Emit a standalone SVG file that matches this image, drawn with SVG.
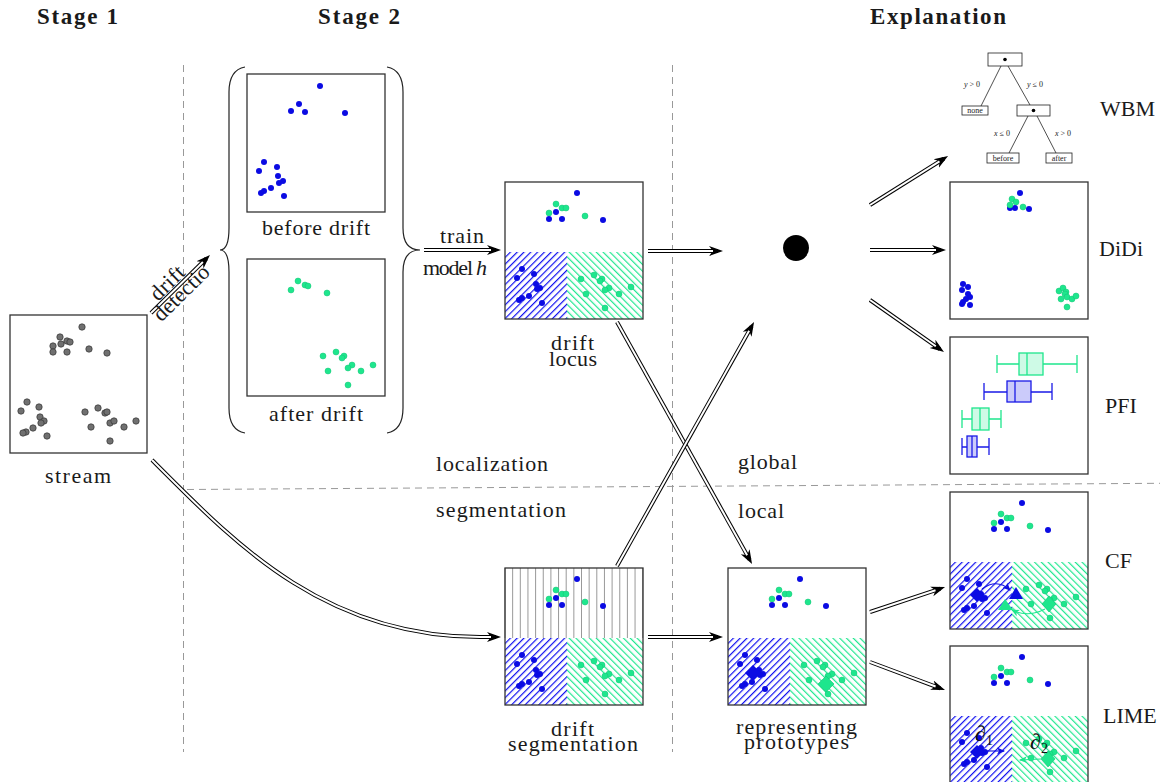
<svg xmlns="http://www.w3.org/2000/svg" xmlns:xlink="http://www.w3.org/1999/xlink" width="1168" height="782" viewBox="0 0 1168 782">
<style>
text{font-family:"Liberation Serif","Times New Roman",serif;fill:#1a1a1a;font-size:22px}
.hd{font-weight:bold;font-size:23px}
.sm{font-size:8px;fill:#222}
.box{fill:none;stroke:#333;stroke-width:1.3}
.bx{fill:#fff;stroke:#222;stroke-width:0.8}
.b{fill:#0b0be3}
.g{fill:#1ee68d;stroke:#12c476;stroke-width:0.5}
.gr{fill:#707070;stroke:#333;stroke-width:0.7}
.dash{stroke:#999;stroke-width:1;stroke-dasharray:7 5;fill:none}
.dk{fill:none;stroke:#000;stroke-width:4;marker-end:url(#ah)}
.wh{fill:none;stroke:#fff;stroke-width:2}
.bp{stroke:#1a1ae6;stroke-width:1.3;fill:none}
.bpf{stroke:#1a1ae6;stroke-width:1.3;fill:rgba(20,20,230,0.22)}
.gp{stroke:#1ee68d;stroke-width:1.3;fill:none}
.gpf{stroke:#1ee68d;stroke-width:1.3;fill:rgba(30,230,141,0.22)}
</style>
<defs>
<marker id="ah" markerUnits="userSpaceOnUse" markerWidth="16" markerHeight="14" viewBox="0 0 16 14" refX="9" refY="7" orient="auto"><path d="M0,2 L14,7 L0,12 L4,7 Z" fill="#000"/></marker>
<marker id="sab" markerUnits="userSpaceOnUse" markerWidth="9" markerHeight="8" viewBox="0 0 9 8" refX="7" refY="4" orient="auto"><path d="M0,0.5 L8,4 L0,7.5 L2,4 Z" fill="#1010e0"/></marker>
<marker id="sag" markerUnits="userSpaceOnUse" markerWidth="9" markerHeight="8" viewBox="0 0 9 8" refX="7" refY="4" orient="auto"><path d="M0,0.5 L8,4 L0,7.5 L2,4 Z" fill="#1ee68d"/></marker>
<pattern id="hb" patternUnits="userSpaceOnUse" width="4.8" height="10" patternTransform="rotate(45)"><rect x="0" y="0" width="1.2" height="10" fill="#1010f0"/></pattern>
<pattern id="hg" patternUnits="userSpaceOnUse" width="4.8" height="10" patternTransform="rotate(-45)"><rect x="0" y="0" width="1.2" height="10" fill="#20e890"/></pattern>
<g id="dots">
<circle class="g" cx="51" cy="22" r="3"/><circle class="g" cx="57" cy="26" r="3"/><circle class="g" cx="61" cy="26" r="3"/><circle class="g" cx="44" cy="31" r="3"/><circle class="g" cx="80" cy="34" r="3"/>
<circle class="b" cx="72" cy="11" r="3"/><circle class="b" cx="51" cy="30" r="3"/><circle class="b" cx="44" cy="37" r="3"/><circle class="b" cx="57" cy="37" r="3"/><circle class="b" cx="98" cy="38" r="3"/>
<circle class="b" cx="17" cy="87" r="3"/><circle class="b" cx="12" cy="96" r="3"/><circle class="b" cx="29" cy="92" r="3"/><circle class="b" cx="31" cy="102" r="3"/><circle class="b" cx="35" cy="106" r="3"/><circle class="b" cx="32" cy="107" r="3"/><circle class="b" cx="24" cy="114" r="3"/><circle class="b" cx="17" cy="116" r="3"/><circle class="b" cx="14" cy="118" r="3"/><circle class="b" cx="37" cy="121" r="3"/>
<circle class="g" cx="76" cy="97" r="3"/><circle class="g" cx="89" cy="93" r="3"/><circle class="g" cx="97" cy="97" r="3"/><circle class="g" cx="95" cy="99" r="3"/><circle class="g" cx="104" cy="106" r="3"/><circle class="g" cx="100" cy="108" r="3"/><circle class="g" cx="81" cy="112" r="3"/><circle class="g" cx="114" cy="112" r="3"/><circle class="g" cx="126" cy="105" r="3"/><circle class="g" cx="100" cy="126" r="3"/>
</g>
<g id="tpl">
<rect x="0" y="70" width="62" height="67" fill="url(#hb)"/>
<rect x="62" y="70" width="76" height="67" fill="url(#hg)"/>
<use href="#dots" xlink:href="#dots"/>
</g>
</defs>
<rect width="1168" height="782" fill="#fff"/>

<g id="guides">
<line class="dash" x1="183.5" y1="65" x2="183.5" y2="752"/>
<line class="dash" x1="672.5" y1="65" x2="672.5" y2="752"/>
<line class="dash" x1="187" y1="489.5" x2="1160" y2="483.3"/>
</g>

<g id="headers">
<text class="hd" x="37" y="24" textLength="81" lengthAdjust="spacing">Stage 1</text>
<text class="hd" x="318" y="24" textLength="82" lengthAdjust="spacing">Stage 2</text>
<text class="hd" x="870" y="24" textLength="136" lengthAdjust="spacing">Explanation</text>
</g>

<g id="region-labels">
<text x="436" y="471" textLength="112" lengthAdjust="spacing">localization</text>
<text x="436" y="517" textLength="130" lengthAdjust="spacing">segmentation</text>
<text x="738" y="469" textLength="59" lengthAdjust="spacing">global</text>
<text x="738" y="518" textLength="46" lengthAdjust="spacing">local</text>
</g>

<g id="connectors">
<path class="dk" d="M151,313 L206.4,258.5"/><path class="wh" d="M151,313 L202.9,262"/>
<path class="dk" d="M424,250 L496,250"/><path class="wh" d="M424,250 L491,250"/>
<path class="dk" d="M648,251 L718,251"/><path class="wh" d="M648,251 L713,251"/>
<path class="dk" d="M617,322 L749.6,559.6"/><path class="wh" d="M617,322 L747.1,555.3"/>
<path class="dk" d="M617,566 L751.6,326.4"/><path class="wh" d="M617,566 L749.1,330.7"/>
<path class="dk" d="M152,460 C232,540 322,637 480,637 L496,637"/><path class="wh" d="M152,460 C232,540 322,637 480,637 L491,637"/>
<path class="dk" d="M648,637 L718,637"/><path class="wh" d="M648,637 L713,637"/>
<path class="dk" d="M870,205 L943.8,158.7"/><path class="wh" d="M870,205 L939.5,161.3"/>
<path class="dk" d="M870,250 L941,250"/><path class="wh" d="M870,250 L936,250"/>
<path class="dk" d="M870,300 L939.9,349.1"/><path class="wh" d="M870,300 L935.8,346.3"/>
<path class="dk" d="M870,612 L940.3,588.6"/><path class="wh" d="M870,612 L935.5,590.2"/>
<path class="dk" d="M870,662 L940.3,688.3"/><path class="wh" d="M870,662 L935.6,686.5"/>
<text transform="translate(180,284.5) rotate(-44.5)" x="-8" y="-3" text-anchor="middle" font-size="20" textLength="40" lengthAdjust="spacing">drift</text>
<text transform="translate(180,284.5) rotate(-44.5)" x="-5" y="14" text-anchor="middle" font-size="20" textLength="70" lengthAdjust="spacing">detectio</text>
<text x="440" y="243" textLength="44" lengthAdjust="spacing">train</text>
<text x="423" y="275" textLength="50" lengthAdjust="spacing">model</text>
<text x="476" y="275" font-style="italic">h</text>
</g>

<g id="stream">
<rect class="box" x="10" y="315" width="137" height="138"/>
<circle class="gr" cx="82" cy="327" r="3.2"/><circle class="gr" cx="60" cy="337" r="3.2"/><circle class="gr" cx="53" cy="346" r="3.2"/><circle class="gr" cx="61" cy="344" r="3.2"/><circle class="gr" cx="67" cy="341" r="3.2"/><circle class="gr" cx="70" cy="342" r="3.2"/><circle class="gr" cx="53" cy="352" r="3.2"/><circle class="gr" cx="67" cy="352" r="3.2"/><circle class="gr" cx="89" cy="349" r="3.2"/><circle class="gr" cx="107" cy="353" r="3.2"/>
<circle class="gr" cx="27" cy="402" r="3.2"/><circle class="gr" cx="21" cy="411" r="3.2"/><circle class="gr" cx="39" cy="407" r="3.2"/><circle class="gr" cx="40" cy="417" r="3.2"/><circle class="gr" cx="44" cy="421" r="3.2"/><circle class="gr" cx="41" cy="423" r="3.2"/><circle class="gr" cx="33" cy="428" r="3.2"/><circle class="gr" cx="26" cy="432" r="3.2"/><circle class="gr" cx="23" cy="433" r="3.2"/><circle class="gr" cx="47" cy="436" r="3.2"/>
<circle class="gr" cx="85" cy="412" r="3.2"/><circle class="gr" cx="98" cy="408" r="3.2"/><circle class="gr" cx="105" cy="413" r="3.2"/><circle class="gr" cx="107" cy="412" r="3.2"/><circle class="gr" cx="110" cy="423" r="3.2"/><circle class="gr" cx="114" cy="421" r="3.2"/><circle class="gr" cx="91" cy="427" r="3.2"/><circle class="gr" cx="124" cy="427" r="3.2"/><circle class="gr" cx="136" cy="421" r="3.2"/><circle class="gr" cx="110" cy="441" r="3.2"/>
<text x="45" y="483" textLength="66" lengthAdjust="spacing">stream</text>
</g>

<g id="braces" fill="none" stroke="#222" stroke-width="1.2">
<path d="M245,67 Q229,70 229,92 L229,228 Q229,250 220,250 Q229,250 229,272 L229,408 Q229,430 245,433"/>
<path d="M387,67 Q403,70 403,92 L403,228 Q403,250 420,250 Q403,250 403,272 L403,408 Q403,430 387,433"/>
</g>

<g id="before-drift">
<rect class="box" x="247" y="74" width="138" height="138"/>
<circle class="b" cx="320" cy="86" r="3"/><circle class="b" cx="299" cy="104" r="3"/><circle class="b" cx="291" cy="111" r="3"/><circle class="b" cx="305" cy="112" r="3"/><circle class="b" cx="345" cy="113" r="3"/>
<circle class="b" cx="264" cy="162" r="3"/><circle class="b" cx="259" cy="171" r="3"/><circle class="b" cx="277" cy="167" r="3"/><circle class="b" cx="278" cy="176" r="3"/><circle class="b" cx="279" cy="183" r="3"/><circle class="b" cx="283" cy="181" r="3"/><circle class="b" cx="271" cy="188" r="3"/><circle class="b" cx="264" cy="191" r="3"/><circle class="b" cx="261" cy="193" r="3"/><circle class="b" cx="284" cy="196" r="3"/>
<text x="262" y="235" textLength="108" lengthAdjust="spacing">before drift</text>
</g>

<g id="after-drift">
<rect class="box" x="247" y="259" width="138" height="137"/>
<circle class="g" cx="298" cy="281" r="3"/><circle class="g" cx="305" cy="285" r="3"/><circle class="g" cx="308" cy="286" r="3"/><circle class="g" cx="291" cy="290" r="3"/><circle class="g" cx="327" cy="293" r="3"/>
<circle class="g" cx="336" cy="352" r="3"/><circle class="g" cx="323" cy="356" r="3"/><circle class="g" cx="344" cy="356" r="3"/><circle class="g" cx="342" cy="358" r="3"/><circle class="g" cx="352" cy="365" r="3"/><circle class="g" cx="348" cy="368" r="3"/><circle class="g" cx="373" cy="365" r="3"/><circle class="g" cx="361" cy="371" r="3"/><circle class="g" cx="328" cy="371" r="3"/><circle class="g" cx="348" cy="385" r="3"/>
<text x="269" y="421" textLength="94" lengthAdjust="spacing">after drift</text>
</g>

<g id="drift-locus">
<use href="#tpl" xlink:href="#tpl" transform="translate(505,182)"/>
<rect class="box" x="505" y="182" width="138" height="137"/>
<text x="551" y="350" textLength="43" lengthAdjust="spacing">drift</text>
<text x="549" y="366" textLength="48" lengthAdjust="spacing">locus</text>
</g>

<g id="drift-segmentation">
<path stroke="#999" stroke-width="1" d="M505,568v70M512.65,568v70M520.3,568v70M527.95,568v70M535.6,568v70M543.25,568v70M550.9,568v70M558.55,568v70M566.2,568v70M573.85,568v70M581.5,568v70M589.15,568v70M596.8,568v70M604.45,568v70M612.1,568v70M619.75,568v70M627.4,568v70M635.05,568v70M642.7,568v70"/>
<use href="#tpl" xlink:href="#tpl" transform="translate(505,568)"/>
<rect class="box" x="505" y="568" width="138" height="137"/>
<text x="551" y="736" textLength="43" lengthAdjust="spacing">drift</text>
<text x="508" y="751" textLength="130" lengthAdjust="spacing">segmentation</text>
</g>

<g id="prototypes">
<use href="#tpl" xlink:href="#tpl" transform="translate(728,568)"/>
<path d="M753,665 L761,673 L753,681 L745,673 Z" fill="#0b0be3"/>
<path d="M826,676 L834,684 L826,692 L818,684 Z" fill="#1ee68d" stroke="#12c476" stroke-width="0.6"/>
<rect class="box" x="728" y="568" width="138" height="137"/>
<text x="736" y="734" textLength="121" lengthAdjust="spacing">representing</text>
<text x="744" y="749" textLength="105" lengthAdjust="spacing">prototypes</text>
</g>

<g id="model-dot">
<circle cx="796" cy="248" r="13" fill="#000"/>
</g>

<g id="wbm">
<line x1="1001" y1="66" x2="981" y2="106" stroke="#222" stroke-width="0.8"/>
<line x1="1008" y1="66" x2="1030" y2="105" stroke="#222" stroke-width="0.8"/>
<line x1="1028" y1="116" x2="1009" y2="153" stroke="#222" stroke-width="0.8"/>
<line x1="1037" y1="116" x2="1056" y2="153" stroke="#222" stroke-width="0.8"/>
<rect class="bx" x="988" y="53" width="34" height="13"/><circle cx="1005" cy="59.5" r="1.8" fill="#000"/>
<rect class="bx" x="962" y="106" width="26" height="9"/><text class="sm" x="975" y="113" text-anchor="middle">none</text>
<rect class="bx" x="1017" y="105" width="33" height="11"/><circle cx="1033.5" cy="110.5" r="1.8" fill="#000"/>
<rect class="bx" x="987" y="153" width="32" height="10"/><text class="sm" x="1003" y="161" text-anchor="middle">before</text>
<rect class="bx" x="1046" y="153" width="26" height="10"/><text class="sm" x="1059" y="161" text-anchor="middle">after</text>
<text class="sm" x="972" y="87" text-anchor="middle"><tspan font-style="italic">y</tspan> &gt; 0</text>
<text class="sm" x="1035" y="87" text-anchor="middle"><tspan font-style="italic">y</tspan> ≤ 0</text>
<text class="sm" x="1002" y="136" text-anchor="middle"><tspan font-style="italic">x</tspan> ≤ 0</text>
<text class="sm" x="1063" y="136" text-anchor="middle"><tspan font-style="italic">x</tspan> &gt; 0</text>
<text x="1100" y="116">WBM</text>
</g>

<g id="didi">
<rect class="box" x="950" y="182" width="138" height="137"/>
<circle class="b" cx="1020" cy="193" r="3"/><circle class="g" cx="1012" cy="199" r="3"/><circle class="g" cx="1016" cy="202" r="3"/><circle class="b" cx="1010" cy="208" r="3"/><circle class="b" cx="1015" cy="208" r="3"/><circle class="g" cx="1010" cy="205" r="3"/><circle class="g" cx="1023" cy="207" r="3"/><circle class="b" cx="1029" cy="209" r="3"/>
<circle class="b" cx="963" cy="284" r="3"/><circle class="b" cx="968" cy="287" r="3"/><circle class="b" cx="962" cy="290" r="3"/><circle class="b" cx="968" cy="294" r="3"/><circle class="b" cx="970" cy="297" r="3"/><circle class="b" cx="966" cy="299" r="3"/><circle class="b" cx="963" cy="302" r="3"/><circle class="b" cx="962" cy="304" r="3"/><circle class="b" cx="970" cy="305" r="3"/>
<circle class="g" cx="1059" cy="291" r="3"/><circle class="g" cx="1063" cy="288" r="3"/><circle class="g" cx="1066" cy="292" r="3"/><circle class="g" cx="1065" cy="294" r="3"/><circle class="g" cx="1067" cy="297" r="3"/><circle class="g" cx="1072" cy="299" r="3"/><circle class="g" cx="1076" cy="296" r="3"/><circle class="g" cx="1061" cy="299" r="3"/><circle class="g" cx="1067" cy="307" r="3"/>
<text x="1099" y="256">DiDi</text>
</g>

<g id="pfi">
<rect class="box" x="950" y="337" width="138" height="137"/>
<path class="gp" d="M997,364H1019M1043,364H1077M997,355V373M1077,355V373"/><rect class="gpf" x="1019" y="353" width="24" height="22"/><line class="gp" x1="1027" y1="353" x2="1027" y2="375"/>
<path class="bp" d="M984,392H1007M1031,392H1052M984,383V400M1052,383V400"/><rect class="bpf" x="1007" y="381" width="24" height="21"/><line class="bp" x1="1015" y1="381" x2="1015" y2="402"/>
<path class="gp" d="M962,419H972M989,419H1001M962,410V428M1001,410V428"/><rect class="gpf" x="972" y="408" width="17" height="22"/><line class="gp" x1="980" y1="408" x2="980" y2="430"/>
<path class="bp" d="M962,447H967M977,447H989M962,438V455M989,438V455"/><rect class="bpf" x="967" y="436" width="10" height="21"/><line class="bp" x1="972" y1="436" x2="972" y2="457"/>
<text x="1105" y="413">PFI</text>
</g>

<g id="cf">
<use href="#tpl" xlink:href="#tpl" transform="translate(950,492)"/>
<path d="M977,588 L984,595 L977,602 L970,595 Z" fill="#0b0be3"/>
<path d="M1016,587 L1023,599 L1009,599 Z" fill="#0b0be3"/>
<path d="M1005,599 L1013,610 L998,610 Z" fill="#1ee68d"/>
<path d="M1049,596 L1056,604 L1049,612 L1042,604 Z" fill="#1ee68d" stroke="#12c476" stroke-width="0.6"/>
<path d="M982,589 Q997,578 1010,590" fill="none" stroke="#1010e0" stroke-width="1.1" marker-end="url(#sab)"/>
<path d="M1045,609 Q1028,618 1012,610" fill="none" stroke="#1ee68d" stroke-width="1.1" marker-end="url(#sag)"/>
<rect class="box" x="950" y="492" width="138" height="137"/>
<text x="1105" y="568">CF</text>
</g>

<g id="lime">
<use href="#tpl" xlink:href="#tpl" transform="translate(950,646)"/>
<path d="M977,745 L984,752 L977,759 L970,752 Z" fill="#0b0be3"/>
<path d="M1048,751 L1055,759 L1048,767 L1041,759 Z" fill="#1ee68d" stroke="#12c476" stroke-width="0.6"/>
<path d="M984,751 L1004,751" fill="none" stroke="#1010e0" stroke-width="1.1" marker-end="url(#sab)"/>
<path d="M1041,759 L1020,760" fill="none" stroke="#1ee68d" stroke-width="1.1" marker-end="url(#sag)"/>
<rect class="box" x="950" y="646" width="138" height="137"/>
<text x="975" y="741" font-size="22" style="fill:#111">∂<tspan font-size="14" dy="4">1</tspan></text>
<text x="1030" y="749" font-size="22" style="fill:#111">∂<tspan font-size="14" dy="4">2</tspan></text>
<text x="1103" y="723">LIME</text>
</g>
</svg>
